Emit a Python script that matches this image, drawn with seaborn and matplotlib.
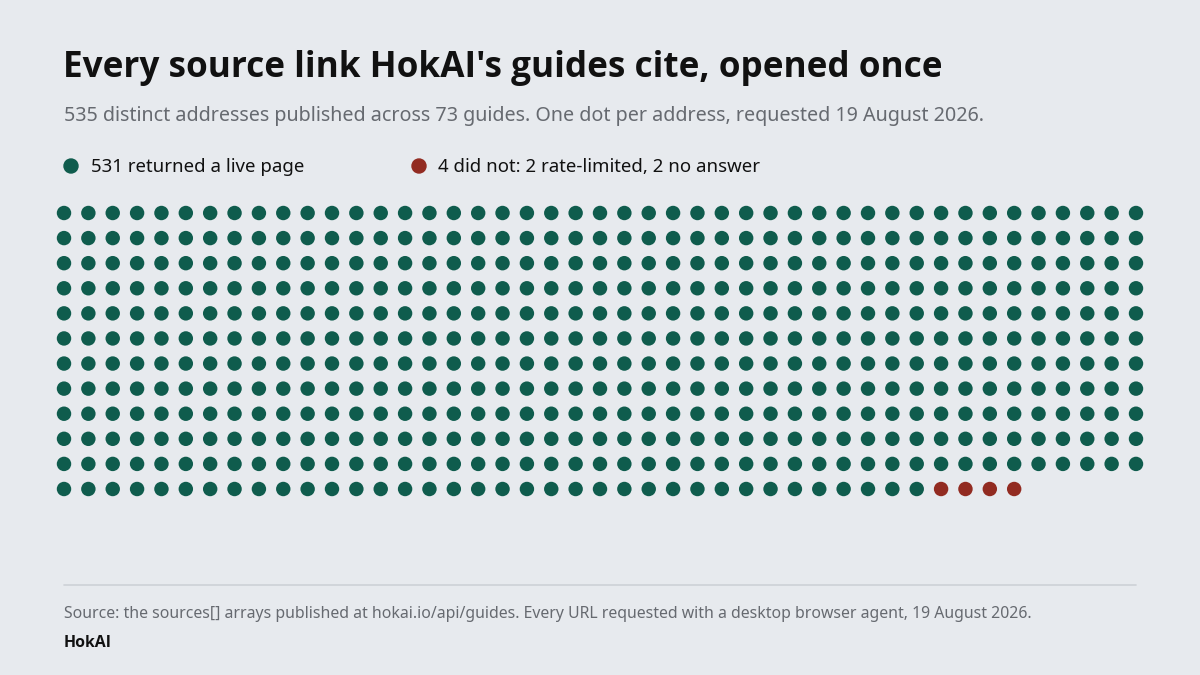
import numpy as np
import pandas as pd
import matplotlib
matplotlib.use("Agg")
import matplotlib.pyplot as plt
import seaborn as sns

# ---- data ----
statuses = ["live", "rate-limited", "no answer"]
counts = [531, 2, 2]
n_cols = 45
title = "Every source link HokAI's guides cite, opened once"
subtitle = "535 distinct addresses published across 73 guides. One dot per address, requested 19 August 2026."
legend_labels = ["531 returned a live page", "4 did not: 2 rate-limited, 2 no answer"]
source = "Source: the sources[] arrays published at hokai.io/api/guides. Every URL requested with a desktop browser agent, 19 August 2026."
brand = "HokAI"

BG = "#e7eaee"
GREEN = "#0f5c4d"
RED = "#922b21"
palette = {"live": GREEN, "rate-limited": RED, "no answer": RED}

status_list = []
for s, c in zip(statuses, counts):
    status_list += [s] * c
idx = np.arange(len(status_list))
df = pd.DataFrame({"col": idx % n_cols, "row": idx // n_cols, "status": status_list})
n_rows = int(df["row"].max()) + 1

sns.set_theme(style="white")
plt.rcParams["font.family"] = ["Noto Sans", "DejaVu Sans"]
BOLD = ["Open Sans", "Lato", "DejaVu Sans"]

W, H = 1200, 675
fig = plt.figure(figsize=(12, 6.75), dpi=100, facecolor=BG)

# axes in pixel coords
x0, x1 = 64, 1136
y0, y1 = 213, 489
dx = (x1 - x0) / (n_cols - 1)
dy = (y1 - y0) / (n_rows - 1)
left = x0 - dx / 2
right = x1 + dx / 2
top = y0 - dy / 2
bottom = y1 + dy / 2
ax = fig.add_axes([left / W, 1 - bottom / H, (right - left) / W, (bottom - top) / H])
ax.set_facecolor(BG)
sns.scatterplot(data=df, x="col", y="row", hue="status", palette=palette,
                s=108, linewidth=0, legend=False, ax=ax)
ax.set_xlim(-0.5, n_cols - 0.5)
ax.set_ylim(n_rows - 0.5, -0.5)
ax.axis("off")

def fx(px):
    return px / W

def fy(py):
    return 1 - py / H

fig.text(fx(63), fy(68), title, fontsize=25.3, fontweight="bold", family=BOLD,
         color="#111111", va="center")
fig.text(fx(64), fy(116), subtitle, fontsize=14.2, color="#666a70", va="center")

# legend
fig.patches.append(matplotlib.patches.Circle((71, H - 166), 7, transform=None, color=GREEN))
fig.text(fx(91), fy(167), legend_labels[0], fontsize=13.4, color="#111111", va="center")
fig.patches.append(matplotlib.patches.Circle((419, H - 166), 7, transform=None, color=RED))
fig.text(fx(438), fy(167), legend_labels[1], fontsize=13.4, color="#111111", va="center")

# footer
fig.add_artist(matplotlib.lines.Line2D([fx(64), fx(1136)], [fy(585), fy(585)],
                                       color="#cdd1d6", linewidth=1.2))
fig.text(fx(64), fy(614), source, fontsize=11.4, color="#666a70", va="center")
fig.text(fx(64), fy(643), brand, fontsize=11.4, fontweight="bold", family=BOLD,
         color="#111111", va="center")

fig.savefig("out.png", dpi=100, facecolor=BG)
